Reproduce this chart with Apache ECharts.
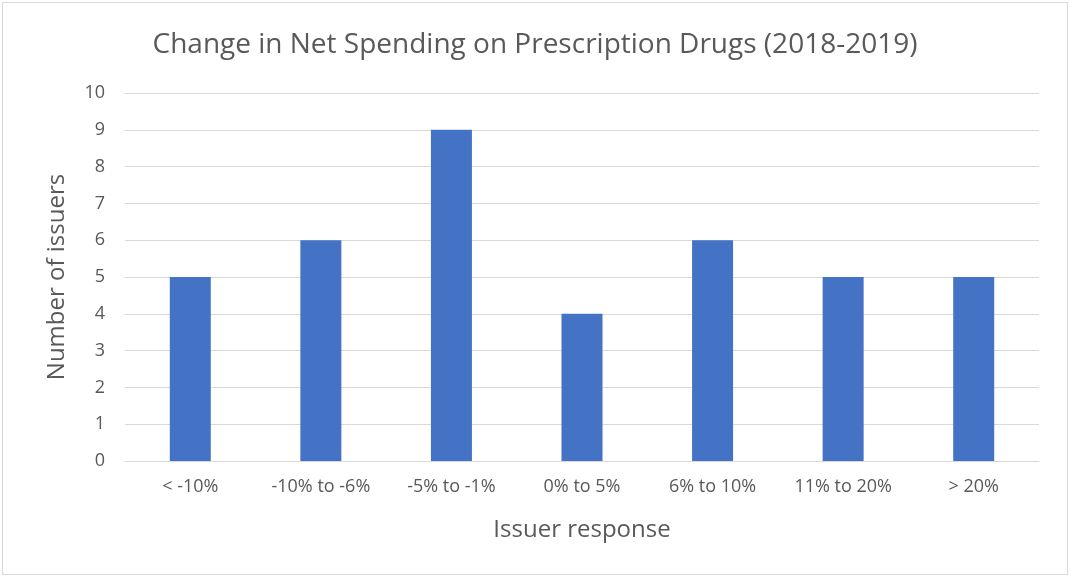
<!DOCTYPE html>
<html>
<head>
    <meta charset="utf-8">
    <title>ECharts</title>
    <script src="https://cdn.jsdelivr.net/npm/echarts@6/dist/echarts.min.js"></script>
    <style>
        html, body { margin: 0; padding: 0; background: #fff; }
        #main { position: absolute; left: 2px; top: 2px; width: 1064px; height: 571px; border: 1px solid #d9d9d9; }
    </style>
</head>
<body>
    <div id="main"></div>
    <script type="text/javascript">
        var categories = ['< -10%', '-10% to -6%', '-5% to -1%', '0% to 5%', '6% to 10%', '11% to 20%', '> 20%'];
        var issuers = [5, 6, 9, 4, 6, 5, 5];
        var yTicks = { min: 0, max: 10, interval: 1 };

        var myChart = echarts.init(document.getElementById('main'));
        var font = '"Open Sans", "Noto Sans", sans-serif';
        var grey = '#595959';

        var option = {
            textStyle: { fontFamily: font },
            title: {
                text: 'Change in Net Spending on Prescription Drugs (2018-2019)',
                left: 'center',
                top: 23,
                textStyle: { fontFamily: font, fontSize: 28, fontWeight: 'normal', color: grey }
            },
            grid: { left: 122, right: 28, top: 90, bottom: 113 },
            xAxis: {
                type: 'category',
                data: categories,
                name: 'Issuer response',
                nameLocation: 'middle',
                nameGap: 57,
                nameTextStyle: { fontFamily: font, fontSize: 24, color: grey },
                axisLine: { lineStyle: { color: '#d9d9d9', width: 1 } },
                axisTick: { show: false },
                axisLabel: { fontFamily: font, fontSize: 18, color: grey, margin: 17 }
            },
            yAxis: {
                type: 'value',
                min: yTicks.min,
                max: yTicks.max,
                interval: yTicks.interval,
                name: 'Number of issuers',
                nameLocation: 'middle',
                nameGap: 56,
                nameTextStyle: { fontFamily: font, fontSize: 24, color: grey },
                splitLine: { lineStyle: { color: '#d9d9d9', width: 1 } },
                axisLine: { show: false },
                axisTick: { show: false },
                axisLabel: { fontFamily: font, fontSize: 18, color: grey, margin: 20 }
            },
            series: [{
                type: 'bar',
                data: issuers,
                barWidth: 41,
                itemStyle: { color: '#4472c4' },
                silent: true
            }]
        };

        myChart.setOption(option);
    </script>
</body>
</html>
